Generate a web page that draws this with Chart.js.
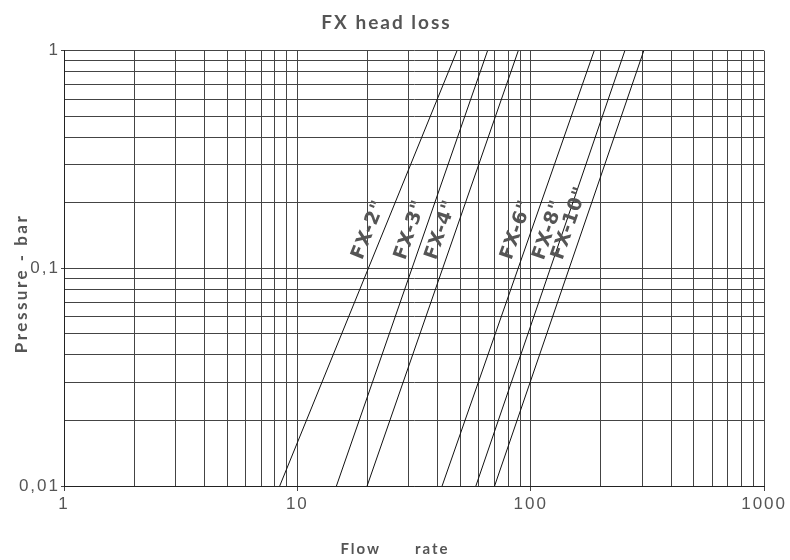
<!DOCTYPE html>
<html>
<head>
<meta charset="utf-8">
<title>FX head loss</title>
<script src="https://cdn.jsdelivr.net/npm/chart.js@4.4.0/dist/chart.umd.min.js"></script>
<style>
  html, body { margin: 0; padding: 0; background: #fff; }
  #wrap { width: 790px; height: 560px; }
</style>
</head>
<body>
<div id="wrap"><canvas id="headloss-chart"></canvas></div>
<script>
// Each line is straight on log-log paper: flow rate read where it meets 0.01 bar and 1 bar
const seriesNames = ['FX-2"', 'FX-3"', 'FX-4"', 'FX-6"', 'FX-8"', 'FX-10"'];
const flowAtLowPressure = [8.4, 14.7, 19.9, 41.7, 58.2, 70.0];
const flowAtHighPressure = [48.3, 65.3, 88.4, 187, 253, 305];
const pressureEnds = [0.01, 1];

// Axis ticks (labelled decades + the 1..9 grid inside each decade)
const flowDecades = [1, 10, 100, 1000];
const flowDecadeLabels = ['1', '10', '100', '1000'];
const pressureDecades = [0.01, 0.1, 1];
const pressureDecadeLabels = ['0,01', '0,1', '1'];
const gridSteps = [1, 2, 3, 4, 5, 6, 7, 8, 9];

// pressure at which the series names are written
const labelPressure = 0.105;

const GREY_TEXT = '#555';
const GRID = '#444';

/**
 * Build log grid ticks: every step of every decade, decades flagged as major
 */
function gridTicks(decades) {
  const ticks = [];
  decades.forEach((d, i) => {
    if (i === decades.length - 1) {
      ticks.push({ value: d, major: true });
      return;
    }
    gridSteps.forEach(s => ticks.push({ value: +(d * s).toPrecision(6), major: s === 1 }));
  });
  return ticks;
}

function decadeLabel(value, decades, labels) {
  const idx = decades.findIndex(d => Math.abs(Math.log10(value) - Math.log10(d)) < 1e-6);
  return idx >= 0 ? labels[idx] : '';
}

// spaced-out lettering like the original print
const letterSpacing = {
  id: 'letterSpacing',
  beforeUpdate(chart) { chart.ctx.letterSpacing = '2px'; },
  beforeDraw(chart) { chart.ctx.letterSpacing = '2px'; }
};

// series names written along their lines, plus the two axis captions
const curveLabels = {
  id: 'curveLabels',
  afterDatasetsDraw(chart) {
    const { ctx, chartArea, scales: { y } } = chart;
    const yPix = y.getPixelForValue(labelPressure);
    ctx.save();
    ctx.fillStyle = GREY_TEXT;
    ctx.letterSpacing = '1px';
    ctx.font = 'bold 19px "DejaVu Sans"';
    ctx.textAlign = 'left';
    ctx.textBaseline = 'alphabetic';
    chart.data.datasets.forEach((ds, i) => {
      const pts = chart.getDatasetMeta(i).data;
      const a = pts[0], b = pts[1];
      const angle = Math.atan2(b.y - a.y, b.x - a.x);
      const t = (yPix - a.y) / (b.y - a.y);
      const x = a.x + t * (b.x - a.x);
      ctx.save();
      ctx.translate(x, yPix);
      ctx.rotate(angle);
      ctx.fillText(ds.label, 0, -9);
      ctx.restore();
    });

    // axis captions
    ctx.textAlign = 'center';
    ctx.textBaseline = 'middle';
    ctx.letterSpacing = '2px';
    ctx.font = 'bold 15px Lato';
    ctx.fillText('Flow      rate', chart.width / 2, chart.height - 11);
    ctx.letterSpacing = '2.5px';
    ctx.font = 'bold 17px Lato';
    ctx.translate(22, (chartArea.top + chartArea.bottom) / 2 + 15);
    ctx.rotate(-Math.PI / 2);
    ctx.fillText('Pressure - bar', 0, 0);
    ctx.restore();
  }
};

const datasets = seriesNames.map((name, i) => ({
  label: name,
  data: [
    { x: flowAtLowPressure[i], y: pressureEnds[0] },
    { x: flowAtHighPressure[i], y: pressureEnds[1] }
  ],
  showLine: true,
  borderColor: '#111',
  borderWidth: 1,
  pointRadius: 0,
  fill: false
}));

const majorTick = ctx => (ctx.tick && ctx.tick.major ? GRID : 'rgba(0,0,0,0)');

new Chart(document.getElementById('headloss-chart'), {
  type: 'scatter',
  data: { datasets },
  plugins: [letterSpacing, curveLabels],
  options: {
    animation: false,
    responsive: true,
    maintainAspectRatio: false,
    layout: { padding: { right: 17 } },
    plugins: {
      legend: { display: false },
      tooltip: { enabled: false },
      title: {
        display: true,
        text: 'FX head loss',
        color: GREY_TEXT,
        font: { family: 'Lato', size: 19, weight: 'bold' },
        padding: { top: 11, bottom: 17 }
      }
    },
    scales: {
      x: {
        type: 'logarithmic',
        min: 1,
        max: 1000,
        afterBuildTicks: s => { s.ticks = gridTicks(flowDecades); },
        afterFit: s => { s.height = 74; },
        ticks: {
          autoSkip: false,
          maxRotation: 0,
          padding: 3,
          color: GREY_TEXT,
          font: { family: 'Liberation Sans', size: 17 },
          callback: v => decadeLabel(v, flowDecades, flowDecadeLabels)
        },
        grid: { color: GRID, lineWidth: 1, tickLength: 5, tickColor: majorTick },
        border: { color: '#222', width: 1 }
      },
      y: {
        type: 'logarithmic',
        min: 0.01,
        max: 1,
        afterBuildTicks: s => { s.ticks = gridTicks(pressureDecades); },
        afterFit: s => { s.width = 64; },
        ticks: {
          autoSkip: false,
          padding: 1,
          color: GREY_TEXT,
          font: { family: 'Liberation Sans', size: 17 },
          callback: v => decadeLabel(v, pressureDecades, pressureDecadeLabels)
        },
        grid: { color: GRID, lineWidth: 1, tickLength: 3, tickColor: majorTick },
        border: { color: '#222', width: 1 }
      }
    }
  }
});
</script>
</body>
</html>
